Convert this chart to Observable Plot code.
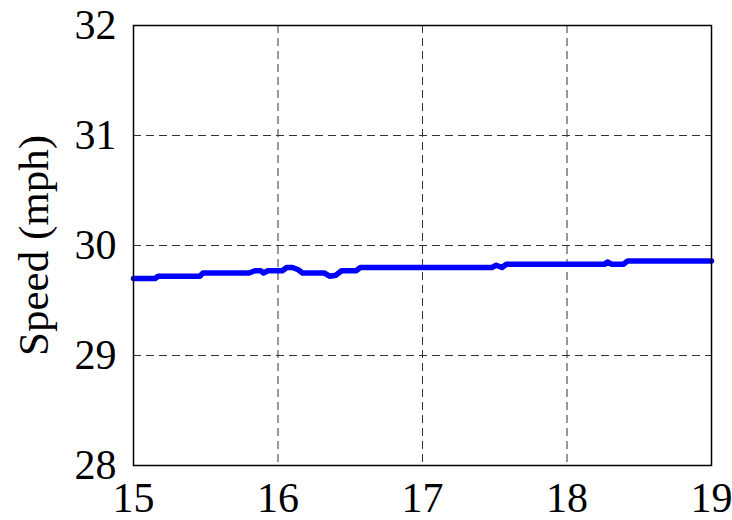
<!DOCTYPE html>
<html>
<head>
<meta charset="utf-8">
<script src="https://cdn.jsdelivr.net/npm/d3@7"></script>
<script src="https://cdn.jsdelivr.net/npm/@observablehq/plot@0.6"></script>
<style>
  html, body { margin: 0; padding: 0; background: #fff; }
  #chart { width: 732px; height: 520px; }
</style>
</head>
<body>
<div id="chart"></div>
<script>
const time = [15.00, 15.15, 15.17, 15.46, 15.48, 15.80, 15.84, 15.88, 15.90, 15.93, 16.03, 16.06, 16.10, 16.14, 16.17, 16.32, 16.36, 16.40, 16.44, 16.54, 16.57, 17.48, 17.51, 17.55, 17.58, 18.26, 18.28, 18.31, 18.39, 18.42, 19.00];
const speed = [29.70, 29.70, 29.72, 29.72, 29.75, 29.75, 29.77, 29.77, 29.75, 29.77, 29.77, 29.80, 29.80, 29.78, 29.75, 29.75, 29.72, 29.73, 29.77, 29.77, 29.80, 29.80, 29.82, 29.80, 29.83, 29.83, 29.85, 29.83, 29.83, 29.86, 29.86];
const xTicks = [15, 16, 17, 18, 19];
const yTicks = [28, 29, 30, 31, 32];
const yLabel = "Speed (mph)";

const data = time.map((t, i) => ({t, v: speed[i]}));
const serif = "'Liberation Serif', 'Times New Roman', serif";

const chart = Plot.plot({
  width: 732,
  height: 520,
  marginLeft: 133,
  marginRight: 21,
  marginTop: 25,
  marginBottom: 55,
  style: {fontFamily: serif, fontSize: "42px", color: "#000", background: "#fff", overflow: "visible"},
  x: {domain: [15, 19]},
  y: {domain: [28, 32]},
  marks: [
    Plot.gridX(xTicks.slice(1, -1), {stroke: "#333", strokeOpacity: 1, strokeWidth: 1, strokeDasharray: "8,5"}),
    Plot.gridY(yTicks.slice(1, -1), {stroke: "#333", strokeOpacity: 1, strokeWidth: 1, strokeDasharray: "8,5"}),
    Plot.line(data, {x: "t", y: "v", stroke: "#0000ff", strokeWidth: 5.5, strokeLinejoin: "round", strokeLinecap: "round"}),
    Plot.frame({stroke: "#000", strokeWidth: 1.5}),
    Plot.axisX(xTicks, {tickSize: 0, tickPadding: 17, label: null, tickFormat: d3.format("d"), fontSize: 42, fontFamily: serif}),
    Plot.axisY(yTicks, {tickSize: 0, tickPadding: 17, label: null, tickFormat: d3.format("d"), fontSize: 42, fontFamily: serif}),
    Plot.text([yLabel], {frameAnchor: "left", textAnchor: "middle", rotate: -90, dx: -99, fontSize: 43, fontFamily: serif, fill: "#000", letterSpacing: "1px"})
  ]
});
document.getElementById("chart").appendChild(chart);
</script>
</body>
</html>
